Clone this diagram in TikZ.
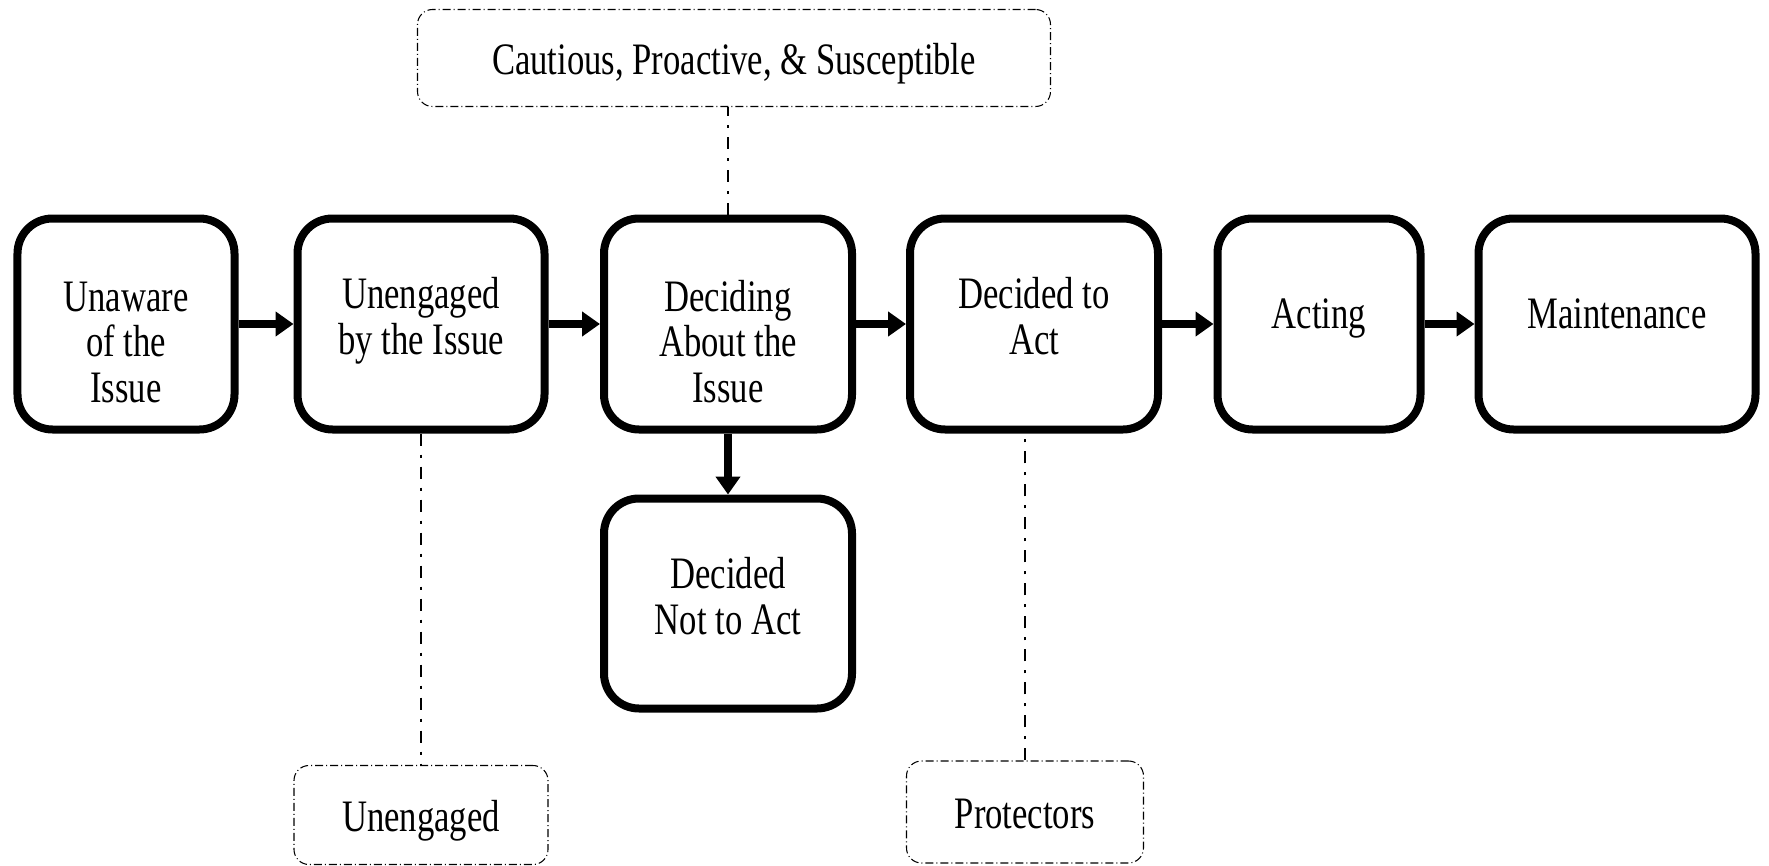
\documentclass[tikz,border=0pt]{standalone}
\usepackage{fontspec}
\setmainfont{Liberation Serif}[FakeStretch=0.77]
\usepackage{tikz}
\usetikzlibrary{arrows.meta}

\begin{document}
\begin{tikzpicture}[
    stage/.style={draw, line width=0.8mm, rounded corners=3.5mm, align=center,
      inner sep=0pt, minimum height=2.11cm, text depth=6.2pt,
      font=\fontsize{12.8pt}{13pt}\selectfont},
    twoline/.style={text depth=4.5pt},
    threeline/.style={text height=44.6pt, text depth=0pt},
    group/.style={draw, line width=0.3pt, rounded corners=1.5mm,
      dash pattern=on 0.8mm off 0.3mm on 0.1mm off 0.3mm, inner sep=0pt,
      text height=12pt, text depth=2.8pt,
      font=\fontsize{12.8pt}{13pt}\selectfont},
    flow/.style={line width=0.85mm, -{Triangle[length=1.8mm,width=2.4mm]}},
    link/.style={line width=0.2mm, dash pattern=on 1.2mm off 0.9mm on 0.3mm off 0.9mm}
  ]
  \useasboundingbox (0,0) rectangle (17.69,-8.66);
  % stages of change
  \node[stage, threeline, minimum width=2.17cm] (unaware) at (1.26,-3.24) {Unaware\\of the\\Issue};
  \node[stage, twoline, minimum width=2.47cm] (unengaged) at (4.21,-3.24) {Unengaged\\by the Issue};
  \node[stage, threeline, minimum width=2.48cm] (deciding) at (7.28,-3.24) {Deciding\\About the\\Issue};
  \node[stage, twoline, minimum width=2.48cm] (decided) at (10.34,-3.24) {Decided to\\Act};
  \node[stage, minimum width=2.03cm] (acting) at (13.19,-3.24) {Acting};
  \node[stage, minimum width=2.77cm] (maintenance) at (16.17,-3.24) {Maintenance};
  \node[stage, twoline, minimum width=2.48cm, minimum height=2.10cm] (notact) at (7.28,-6.035) {Decided\\Not to Act};
  % groups
  \node[group, minimum width=6.33cm, minimum height=0.97cm] (cautious) at (7.34,-0.58) {Cautious, Proactive, \& Susceptible};
  \node[group, minimum width=2.54cm, minimum height=0.99cm] (unengagedgrp) at (4.21,-8.15) {Unengaged};
  \node[group, minimum width=2.37cm, minimum height=1.02cm] (protectors) at (10.25,-8.12) {Protectors};
  % arrows
  \draw[flow] (unaware) -- (unengaged);
  \draw[flow] (unengaged) -- (deciding);
  \draw[flow] (deciding) -- (decided);
  \draw[flow] (decided) -- (acting);
  \draw[flow] (acting) -- (maintenance);
  \draw[flow] (deciding) -- (notact);
  % links to groups
  \draw[link] (deciding.north) -- (deciding.north |- cautious.south);
  \draw[link] (unengaged.south) -- (unengaged.south |- unengagedgrp.north);
  \draw[link] (protectors.north) -- (protectors.north |- decided.south);
\end{tikzpicture}
\end{document}
